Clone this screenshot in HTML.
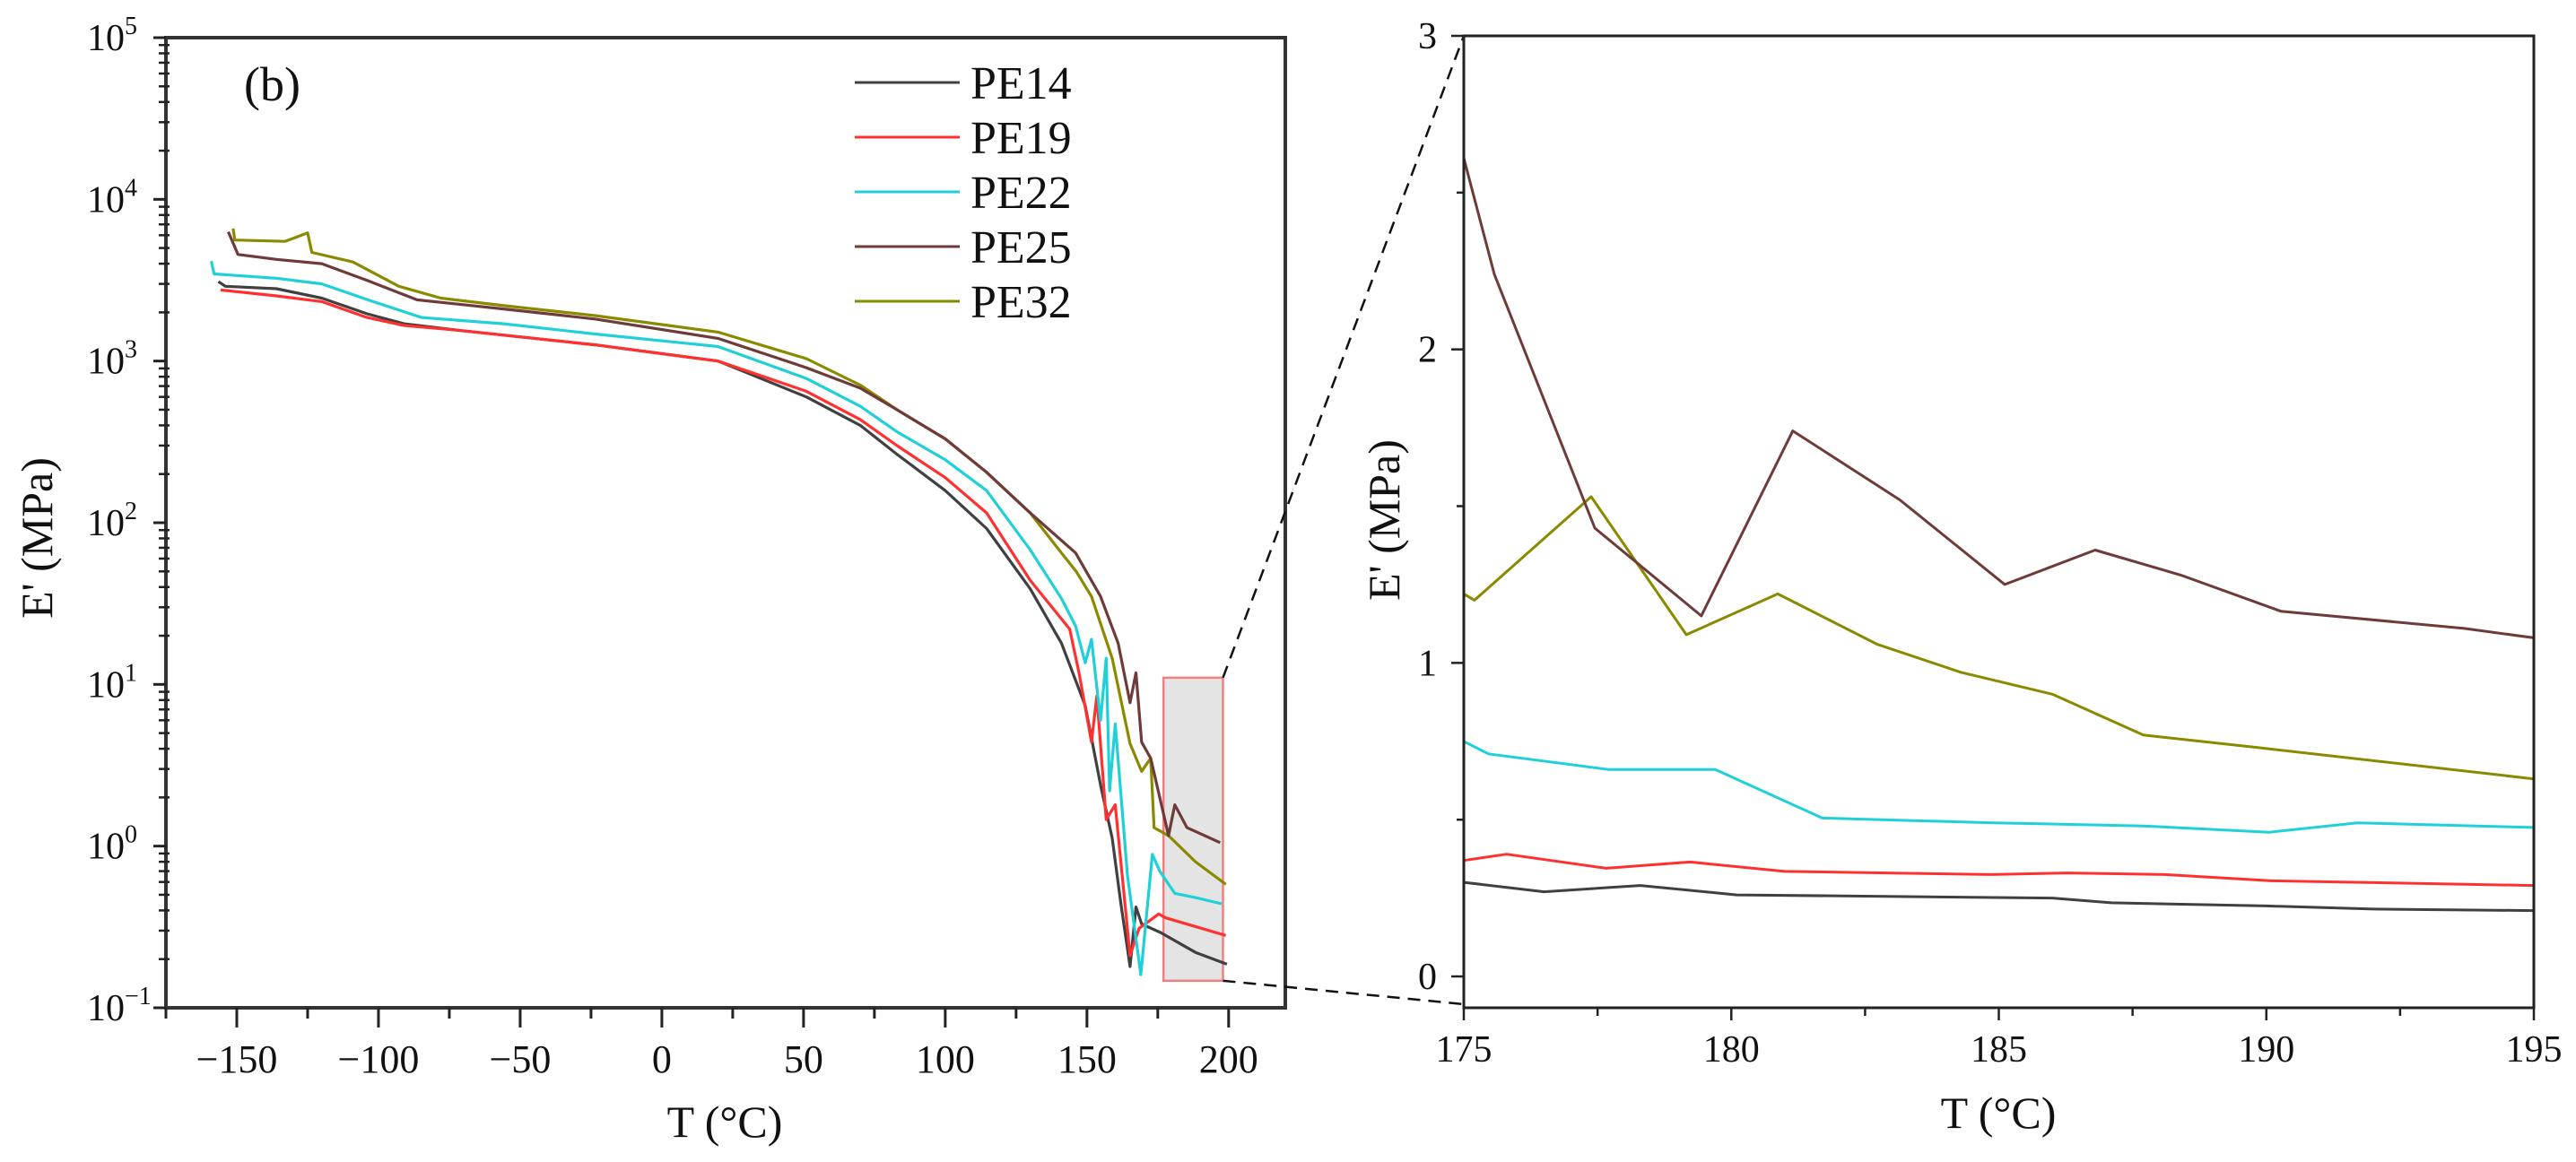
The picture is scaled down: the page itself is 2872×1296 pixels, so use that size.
<!DOCTYPE html>
<html><head><meta charset="utf-8">
<style>
html,body{margin:0;padding:0;background:#fff;}
svg{display:block;font-family:"Liberation Serif","Times New Roman",serif;}
</style></head>
<body>
<svg id="fig" width="2872" height="1296" viewBox="0 0 2872 1296" xmlns="http://www.w3.org/2000/svg"></svg>
<script>
// ---- Left panel data (log scale) ----
const seriesNames = ["PE14","PE19","PE22","PE25","PE32"];
const seriesColors = ["#404040","#ff3030","#20d0d8","#6e3a3a","#8a8a00"];
const tPE14 = [-156.5,-154,-136,-120,-104,-91,-72,-23.6,19.8,51,70,83,100,114.6,130,141,149.4,155,158.9,162,165.2,167.3,169.3,176.3,188.3,199.4];
const ePE14 = [3100,2900,2800,2450,1960,1700,1550,1260,1000,600,400,265,158,92,39,18,7.4,2.3,1.12,0.44,0.18,0.42,0.33,0.29,0.22,0.186];
const tPE19 = [-155.7,-136,-120,-104,-91,-72,-23.6,19.8,51,70,83,100,114.6,130,143.9,147.2,151.6,153.5,156.8,160,165.2,168.4,175.3,177.8,199];
const ePE19 = [2750,2530,2330,1860,1660,1550,1260,1000,650,435,300,190,115,44,22,11.8,4.4,8.5,1.46,1.8,0.21,0.31,0.38,0.36,0.28];
const tPE22 = [-159,-158,-136,-120,-104,-84.8,-55.8,-23.6,19.8,51,70,83,100,114.6,130,141,146,149.4,151.6,154.8,156.8,158,160,164.3,169,173.1,175.7,181,188.3,197.5];
const ePE22 = [4150,3460,3250,3000,2400,1860,1700,1470,1230,780,525,365,245,158,68,34,23,13.6,19,6.0,14.5,2.2,5.7,0.66,0.16,0.89,0.7,0.51,0.48,0.44];
const tPE25 = [-153,-149.6,-136,-120,-104,-86.4,-55.8,-23.6,19.8,51,70,83,100,114.6,130,146,154.8,161,165.2,167.3,169.3,172.5,176.3,178.8,181,185.3,197];
const ePE25 = [6300,4560,4250,4000,3150,2390,2100,1820,1380,910,680,500,330,205,115,65,35,18,7.7,11.8,4.4,3.5,1.8,1.16,1.8,1.3,1.05];
const tPE32 = [-151.3,-150.7,-133,-125,-123.5,-109,-92.8,-78,-55.8,-23.6,19.8,51,70,83,100,114.6,130,141,146.2,151.6,158.9,165.2,169.3,172.5,173.7,178.8,188.3,199];
const ePE32 = [6600,5600,5500,6200,4700,4100,2900,2450,2200,1910,1510,1035,710,500,330,205,115,65,50,35,14.5,4.3,2.9,3.5,1.3,1.16,0.8,0.58];
const leftXTicks = [-150,-100,-50,0,50,100,150,200];
const leftYExps = [-1,0,1,2,3,4,5];
// ---- Right panel data (linear) ----
const rT14 = [175,176.5,178.3,180.1,186.0,187.1,190,192,195];
const rE14 = [0.30,0.27,0.29,0.26,0.25,0.235,0.225,0.215,0.21];
const rT19 = [175,175.8,177.66,179.23,181.0,184.86,186.28,188.1,190.1,195];
const rE19 = [0.37,0.39,0.345,0.365,0.335,0.325,0.33,0.325,0.305,0.29];
const rT22 = [175,175.46,177.7,179.7,181.7,184.9,187.7,190.06,191.7,195];
const rE22 = [0.75,0.71,0.66,0.66,0.505,0.49,0.48,0.46,0.49,0.475];
const rT25 = [175,175.57,177.45,179.44,181.15,183.15,185.11,186.8,188.4,190.27,193.7,195];
const rE25 = [2.61,2.24,1.43,1.15,1.74,1.52,1.25,1.36,1.28,1.165,1.11,1.08];
const rT32 = [175,175.2,177.38,179.16,180.87,182.72,184.29,186.0,187.7,189.84,195];
const rE32 = [1.22,1.20,1.53,1.09,1.22,1.06,0.97,0.90,0.77,0.73,0.63];
const rightXTicks = [175,180,185,190,195];
const rightYTicks = [0,1,2,3];

const NS="http://www.w3.org/2000/svg";
const svg=document.getElementById('fig');
function mk(tag,attrs,parent){const e=document.createElementNS(NS,tag);for(const k in attrs)e.setAttribute(k,attrs[k]);(parent||svg).appendChild(e);return e;}

const L={x0:185,x1:1433,y0:42,y1:1124,tmin:-175,tmax:220,lmin:-1,lmax:5};
const lx=t=>L.x0+(t-L.tmin)/(L.tmax-L.tmin)*(L.x1-L.x0);
const ly=v=>L.y1-(Math.log10(v)-L.lmin)/(L.lmax-L.lmin)*(L.y1-L.y0);
const R={x0:1632,x1:2825,y0:40,y1:1124,tmin:175,tmax:195,vmin:-0.1,vmax:3};
const rx=t=>R.x0+(t-R.tmin)/(R.tmax-R.tmin)*(R.x1-R.x0);
const ry=v=>R.y1-(v-R.vmin)/(R.vmax-R.vmin)*(R.y1-R.y0);

const box=mk('rect',{x:lx(177),y:ly(11),width:lx(198)-lx(177),height:ly(0.147)-ly(11),fill:'#e4e4e4',stroke:'#f08080','stroke-width':2.5});



const lt=[tPE14,tPE19,tPE22,tPE25,tPE32], le=[ePE14,ePE19,ePE22,ePE25,ePE32];
const lg=mk('g',{});


[0,1,2,4,3].forEach(i=>{
  const d=lt[i].map((t,j)=>(j?'L':'M')+lx(t).toFixed(1)+','+ly(le[i][j]).toFixed(1)).join('');
  const p=mk('path',{d:d,fill:'none',stroke:seriesColors[i],'stroke-width':3.2,'stroke-linejoin':'round'},lg);
  
  
});

const lf=mk('rect',{x:L.x0,y:L.y0,width:L.x1-L.x0,height:L.y1-L.y0,fill:'none',stroke:'#333','stroke-width':4});


leftXTicks.forEach(t=>{
  const x=lx(t);
  mk('line',{x1:x,y1:L.y1,x2:x,y2:L.y1+22,stroke:'#222','stroke-width':3});
  const tx=mk('text',{x:x,y:L.y1+72,'font-size':44,'text-anchor':'middle',fill:'#111'});
  tx.textContent=(t<0?'\u2212':'')+Math.abs(t);
  
  
});
for(let t=-175;t<=220;t+=25){ if(leftXTicks.indexOf(t)<0){const x=lx(t);mk('line',{x1:x,y1:L.y1,x2:x,y2:L.y1+12,stroke:'#222','stroke-width':3});}}
leftYExps.forEach(e=>{
  const y=ly(Math.pow(10,e));
  mk('line',{x1:L.x0-14,y1:y,x2:L.x0,y2:y,stroke:'#222','stroke-width':3});
  const tx=mk('text',{x:L.x0-88,y:y+14,'font-size':42,'text-anchor':'start',fill:'#111'});
  const a=document.createElementNS(NS,'tspan');a.textContent='10';tx.appendChild(a);
  const b=document.createElementNS(NS,'tspan');b.setAttribute('dy','-18');b.setAttribute('font-size','28');b.textContent=(e<0?'\u2212':'')+Math.abs(e);tx.appendChild(b);
  
  
  if(e<5){for(let m=2;m<=9;m++){const ym=ly(m*Math.pow(10,e));mk('line',{x1:L.x0-8,y1:ym,x2:L.x0+4,y2:ym,stroke:'#222','stroke-width':2.5});}}
});
let t1=mk('text',{x:808,y:1268,'font-size':50,'text-anchor':'middle',fill:'#111'});t1.textContent='T (\u00B0C)';


let t2=mk('text',{x:0,y:0,'font-size':50,'text-anchor':'middle',fill:'#111',transform:'translate(58,600) rotate(-90)'});t2.textContent="E' (MPa)";


let pl=mk('text',{x:272,y:112,'font-size':54,fill:'#111'});pl.textContent='(b)';


seriesNames.forEach((n,i)=>{
  const y=92+i*61;
  const g=mk('g',{});
  
  
  mk('line',{x1:953,y1:y,x2:1070,y2:y,stroke:seriesColors[i],'stroke-width':3},g);
  const tx=mk('text',{x:1082,y:y+18,'font-size':52,fill:'#111'},g);tx.textContent=n;
});

const c1=mk('line',{x1:lx(198),y1:ly(11),x2:R.x0,y2:R.y0,stroke:'#111','stroke-width':2.5,'stroke-dasharray':'14 9'});


const c2=mk('line',{x1:lx(198),y1:ly(0.147),x2:R.x0,y2:1120,stroke:'#111','stroke-width':2.5,'stroke-dasharray':'14 9'});



const rt=[rT14,rT19,rT22,rT25,rT32], re=[rE14,rE19,rE22,rE25,rE32];
const rg=mk('g',{});


[0,1,2,4,3].forEach(i=>{
  const d=rt[i].map((t,j)=>(j?'L':'M')+rx(t).toFixed(1)+','+ry(re[i][j]).toFixed(1)).join('');
  const p=mk('path',{d:d,fill:'none',stroke:seriesColors[i],'stroke-width':3,'stroke-linejoin':'round'},rg);
  
  
});
const rf=mk('rect',{x:R.x0,y:R.y0,width:R.x1-R.x0,height:R.y1-R.y0,fill:'none',stroke:'#222','stroke-width':3});


rightXTicks.forEach(t=>{
  const x=rx(t);
  mk('line',{x1:x,y1:R.y1,x2:x,y2:R.y1+14,stroke:'#222','stroke-width':2.5});
  const tx=mk('text',{x:x,y:R.y1+60,'font-size':42,'text-anchor':'middle',fill:'#111'});tx.textContent=t;
  
  
});
for(let t=177.5;t<195;t+=5){const x=rx(t);mk('line',{x1:x,y1:R.y1,x2:x,y2:R.y1+9,stroke:'#222','stroke-width':2.5});}
rightYTicks.forEach(v=>{
  const y=ry(v);
  mk('line',{x1:R.x0-14,y1:y,x2:R.x0,y2:y,stroke:'#222','stroke-width':2.5});
  const tx=mk('text',{x:R.x0-30,y:y+14,'font-size':42,'text-anchor':'end',fill:'#111'});tx.textContent=v;
  
  
});
for(let v=0.5;v<3;v+=1){const y=ry(v);mk('line',{x1:R.x0-8,y1:y,x2:R.x0,y2:y,stroke:'#222','stroke-width':2.5});}
let t3=mk('text',{x:2228,y:1258,'font-size':50,'text-anchor':'middle',fill:'#111'});t3.textContent='T (\u00B0C)';


let t4=mk('text',{x:0,y:0,'font-size':50,'text-anchor':'middle',fill:'#111',transform:'translate(1560,580) rotate(-90)'});t4.textContent="E' (MPa)";


</script>
</body></html>
